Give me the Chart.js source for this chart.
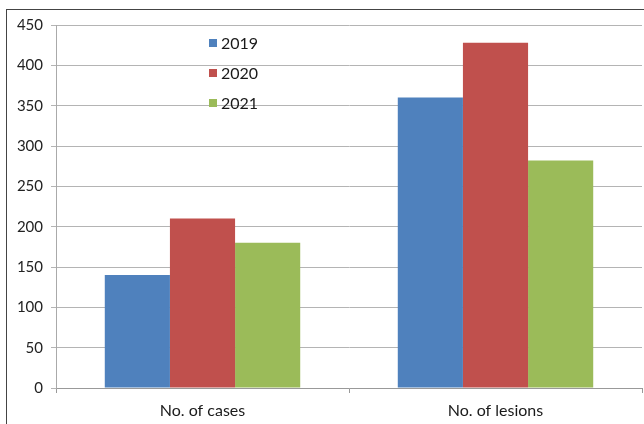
<!DOCTYPE html>
<html>
<head>
<meta charset="utf-8">
<script src="https://cdn.jsdelivr.net/npm/chart.js@4/dist/chart.umd.min.js"></script>
<style>
  html, body { margin: 0; padding: 0; background: #fff; }
  #wrap { position: relative; width: 644px; height: 424px; overflow: hidden; }
  #frame { position: absolute; left: 6px; top: 9px; width: 660px; height: 440px;
           border-left: 1px solid #444; border-top: 1px solid #444; box-sizing: border-box; }
  canvas { position: absolute; left: 0; top: 0; }
</style>
</head>
<body>
<div id="wrap">
  <div id="frame"></div>
  <canvas id="c" width="644" height="424"></canvas>
</div>
<script>
const categories = ["No. of cases", "No. of lesions"];
const seriesLabels = ["2019", "2020", "2021"];
const values2019 = [140, 360];
const values2020 = [210, 428];
const values2021 = [180, 282];
const yTicks = [0, 50, 100, 150, 200, 250, 300, 350, 400, 450];

const colors = ["#4f81bd", "#c0504d", "#9bbb59"];
const fontFamily = "Lato, 'Open Sans', sans-serif";

// Legend drawn inside the plot area, stacked vertically
const innerLegend = {
  id: "innerLegend",
  afterDatasetsDraw(chart) {
    const ctx = chart.ctx;
    ctx.save();
    ctx.font = "16px " + fontFamily;
    ctx.textBaseline = "middle";
    ctx.textAlign = "left";
    const x = 209, y0 = 43, step = 30;
    chart.data.datasets.forEach((ds, i) => {
      const y = y0 + i * step;
      ctx.fillStyle = ds.backgroundColor;
      ctx.fillRect(x, y - 4, 8, 8);
      ctx.fillStyle = "#1a1a1a";
      ctx.fillText(ds.label, x + 12, y + 1);
    });
    ctx.restore();
  }
};

new Chart(document.getElementById("c"), {
  type: "bar",
  data: {
    labels: categories,
    datasets: [
      { label: seriesLabels[0], data: values2019, backgroundColor: colors[0] },
      { label: seriesLabels[1], data: values2020, backgroundColor: colors[1] },
      { label: seriesLabels[2], data: values2021, backgroundColor: colors[2] }
    ]
  },
  options: {
    responsive: false,
    animation: false,
    layout: { padding: { left: 0, right: 2, top: 25, bottom: 0 } },
    datasets: { bar: { categoryPercentage: 0.667, barPercentage: 1.0 } },
    plugins: { legend: { display: false }, tooltip: { enabled: false } },
    scales: {
      x: {
        afterFit(scale) { scale.height = 36; },
        grid: { display: true, drawOnChartArea: false, offset: true, color: "#999", tickLength: 5 },
        border: { color: "#999" },
        ticks: { color: "#1a1a1a", font: { family: fontFamily, size: 16 }, padding: 8 }
      },
      y: {
        min: 0, max: 450,
        afterFit(scale) { scale.width = 56; },
        afterBuildTicks(scale) { scale.ticks = yTicks.map(v => ({ value: v })); },
        grid: { color: "#b4b4b4", tickLength: 5 },
        border: { color: "#aaa" },
        ticks: { color: "#222", font: { family: fontFamily, size: 15 }, padding: 8 }
      }
    }
  },
  plugins: [innerLegend]
});
</script>
</body>
</html>
